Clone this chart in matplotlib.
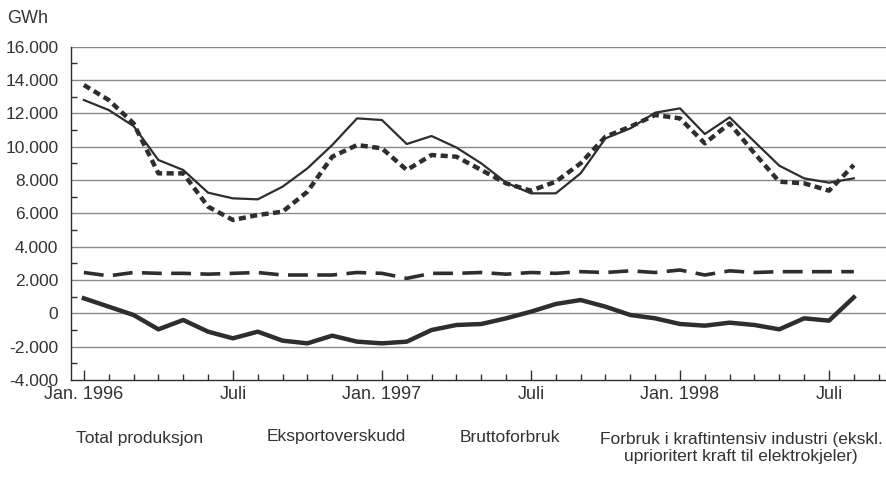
import numpy as np
import matplotlib.pyplot as plt
from matplotlib.ticker import MultipleLocator, FixedLocator

# monthly data, Jan 1996 - Aug 1998 (GWh)
months = np.arange(32)
total_produksjon = [12800, 12200, 11240, 9200, 8600, 7240, 6900, 6840, 7600, 8700,
                    10100, 11700, 11600, 10160, 10640, 9950, 9000, 7840, 7200, 7200,
                    8400, 10500, 11100, 12040, 12300, 10760, 11760, 10300, 8860, 8100,
                    7840, 8100]
bruttoforbruk = [13700, 12800, 11400, 8400, 8400, 6400, 5600, 5900, 6100, 7300,
                 9400, 10100, 9900, 8600, 9500, 9400, 8600, 7800, 7360, 7900,
                 9000, 10600, 11200, 11900, 11700, 10200, 11400, 9600, 7900, 7800,
                 7360, 8900]
kraftintensiv = [2450, 2250, 2450, 2400, 2400, 2350, 2400, 2450, 2300, 2300,
                 2300, 2450, 2400, 2100, 2400, 2400, 2450, 2350, 2450, 2400,
                 2500, 2450, 2550, 2450, 2600, 2300, 2550, 2450, 2500, 2500,
                 2500, 2500]
eksportoverskudd = [900, 400, -100, -960, -400, -1100, -1500, -1100, -1640, -1800,
                    -1340, -1700, -1800, -1700, -1000, -700, -640, -300, 100, 560,
                    800, 400, -100, -300, -640, -740, -560, -700, -960, -300,
                    -440, 960]

xlabels = ['Jan. 1996', 'Juli', 'Jan. 1997', 'Juli', 'Jan. 1998', 'Juli']
legend_labels = ['Total produksjon', 'Eksportoverskudd', 'Bruttoforbruk',
                 'Forbruk i kraftintensiv industri (ekskl.\nuprioritert kraft til elektrokjeler)']

plt.rcParams['font.family'] = ['Liberation Sans', 'DejaVu Sans']
dark = '#2e2e2e'

fig = plt.figure(figsize=(8.87, 4.79), dpi=100)
ax = fig.add_axes([0.080, 0.2067, 0.919, 0.6958])

# grid every 2000
for v in range(-2000, 16001, 2000):
    ax.axhline(v, color='#8a8a8a', lw=1.0, zorder=1)

ax.plot(months, total_produksjon, color=dark, lw=1.6, zorder=3)
ax.plot(months, bruttoforbruk, color=dark, lw=3.2, dashes=(1.6, 1.0), zorder=3)
ax.plot(months, kraftintensiv, color=dark, lw=2.6, dashes=(5.5, 2.6), zorder=3)
ax.plot(months, eksportoverskudd, color=dark, lw=3.2, zorder=3)

ax.set_xlim(-0.52, 32.3)
ax.set_ylim(-4000, 16000)

ax.xaxis.set_major_locator(FixedLocator([0, 6, 12, 18, 24, 30]))
ax.xaxis.set_minor_locator(MultipleLocator(1))
ax.set_xticklabels(xlabels)
ax.yaxis.set_major_locator(MultipleLocator(2000))
ax.yaxis.set_minor_locator(MultipleLocator(1000))
ax.set_yticklabels([f'{int(v):,}'.replace(',', '.') for v in ax.get_yticks()])

ax.tick_params(axis='x', which='major', direction='in', length=7, width=1, labelsize=13, pad=4, colors=dark)
ax.tick_params(axis='x', which='minor', direction='in', length=4, width=1, colors=dark)
ax.tick_params(axis='y', which='major', direction='in', length=0, labelsize=12.5, pad=9, colors=dark)
ax.tick_params(axis='y', which='minor', direction='in', length=4, width=1, colors=dark)
for lab in ax.get_yticklabels() + ax.get_xticklabels():
    lab.set_color('#333333')

for s in ['top', 'right']:
    ax.spines[s].set_visible(False)
for s in ['left', 'bottom']:
    ax.spines[s].set_color(dark)
    ax.spines[s].set_linewidth(1.0)

fig.text(0.008, 0.962, 'GWh', fontsize=13, color='#333333', va='center', ha='left')

# legend texts along bottom
leg_x = [140, 336, 510, 741]
leg_y = [438, 436, 438, 448]
for lab, lx, ly in zip(legend_labels, leg_x, leg_y):
    fig.text(lx / 887, 1 - ly / 479, lab, fontsize=12.5, color='#333333',
             ha='center', va='center', linespacing=1.2)

fig.savefig('out.png', dpi=100)
